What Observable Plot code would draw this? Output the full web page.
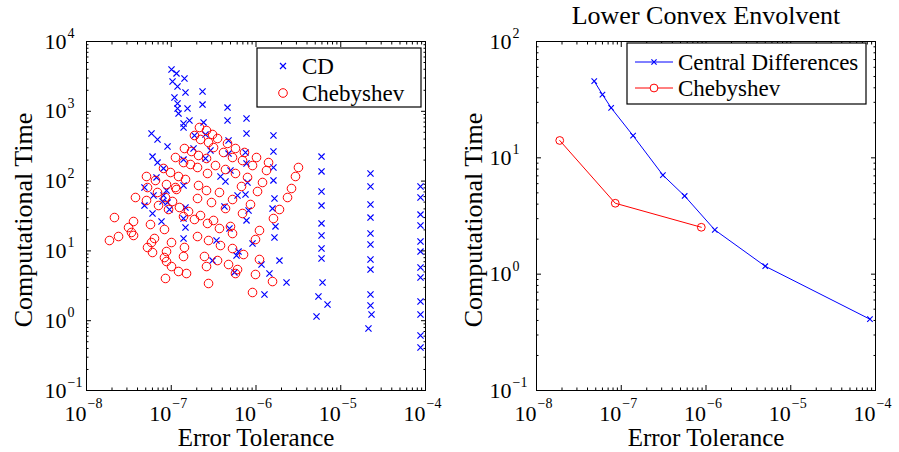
<!DOCTYPE html>
<html><head><meta charset="utf-8">
<script src="https://cdn.jsdelivr.net/npm/d3@7"></script>
<script src="https://cdn.jsdelivr.net/npm/@observablehq/plot@0.6"></script>
<style>
body{margin:0;background:#fff;}
#wrap{display:flex;width:899px;height:452px;overflow:hidden;}
</style></head><body><div id="wrap"></div>
<script>
// ---------- DATA (left panel, values read as log10 of the axis value) ----------
const cdLogErr = [
-6.997,-6.938,-6.844,-6.985,-6.926,-6.832,-6.962,-6.926,-6.808,-6.926,
-6.914,-6.785,-6.855,-6.855,-7.233,-7.162,-7.044,-6.726,-6.737,-7.221,
-7.162,-7.091,-6.855,-7.174,-7.316,-6.855,-6.631,-6.631,-6.336,-6.336,
-6.112,-6.112,-6.619,-6.596,-6.324,-6.537,-6.596,-6.324,-6.112,-6.124,
-6.301,-6.419,-6.360,-6.100,-6.218,-6.124,-5.794,-5.794,-5.794,-5.794,
-5.782,-5.805,-5.770,-5.782,-6.041,-5.723,-5.935,-5.841,-5.640,-5.900,
-5.227,-5.227,-5.227,-5.227,-5.227,-5.227,-5.227,-5.227,-5.215,-5.263,-5.156,-5.286,
-4.649,-4.649,-4.649,-4.649,-4.649,-4.649,-4.649,-4.649,-4.649,-4.649,-4.637,-4.673,
-4.059,-4.059,-4.059,-4.059,-4.059,-4.059,-4.059,-4.059,-4.059,-4.059,-4.059,-4.059,
-7.209,-7.056,-7.091,-7.103,-7.044,-7.316,-7.221,-7.115,-7.021,-6.832,-6.855,-6.832,
-6.855,-6.372,-6.088,-6.112,-6.313,-6.466,-6.206,-6.230,-6.513,-6.254
];
const cdLogTime = [
3.599,3.542,3.470,3.427,3.355,3.269,3.198,3.112,3.040,3.040,
2.968,2.868,2.825,2.768,2.682,2.596,2.496,2.653,2.467,2.352,
2.266,2.181,2.309,2.052,1.908,1.937,3.284,3.097,3.054,2.868,
2.897,2.682,2.840,2.668,2.582,2.438,2.324,2.395,2.252,2.410,
2.152,2.066,1.994,1.980,1.794,1.808,2.653,2.424,2.195,2.009,
1.751,1.607,1.350,1.192,1.106,0.862,0.805,0.676,0.547,0.375,
2.352,2.138,1.851,1.650,1.393,1.221,1.034,0.891,0.547,0.347,0.232,0.060,
2.109,1.923,1.665,1.478,1.249,1.092,0.877,0.733,0.375,0.218,0.089,-0.112,
1.923,1.765,1.521,1.364,1.135,0.991,0.762,0.619,0.275,0.089,-0.212,-0.384,
1.794,1.865,1.794,1.708,1.693,1.650,1.536,1.421,1.593,1.622,1.464,1.335,
1.178,1.636,1.579,1.436,1.321,1.149,0.991,0.934,0.862,0.691
];
const chebLogErr = [
-6.667,-6.584,-6.513,-6.454,-6.726,-6.655,-6.560,-6.501,-6.336,-6.242,
-6.844,-6.761,-6.678,-6.584,-6.383,-6.277,-6.136,-5.994,-6.159,-6.041,
-6.950,-6.855,-6.773,-6.690,-6.478,-6.360,-6.242,-5.852,-7.091,-7.009,
-6.914,-6.832,-6.572,-6.100,-7.292,-7.186,-7.056,-6.950,-7.280,
-5.876,-5.499,-5.534,-5.923,-5.982,-5.581,-5.628,-6.065,-5.723,-5.794,
-5.959,-6.006,-5.959,-6.006,-5.805,-6.041,
-6.678,-6.584,-6.431,-6.171,-6.690,-6.277,-6.525,-6.360,
-6.159,-6.655,-6.501,-6.572,-6.431,-6.301,-6.277,-6.690,-6.560,-6.419,
-6.277,-6.147,-6.608,-6.454,-6.584,-6.324,-6.218,-6.242,-6.560,
-7.422,-7.292,-7.162,-6.938,-7.068,-6.985,-7.150,-7.032,-6.903,-6.796,
-7.670,-7.445,-7.245,-7.080,-6.855,-6.726,-7.504,-7.469,-7.445,-7.622,
-7.729,-7.198,-7.233,-7.280,-7.221,-6.997,-6.844,-7.056,-7.080,-7.056,
-6.855,-6.997,-6.914,-6.820,-7.068
];
const chebLogTime = [
2.768,2.725,2.668,2.610,2.653,2.596,2.553,2.481,2.539,2.467,
2.467,2.424,2.367,2.324,2.410,2.338,2.410,2.338,2.295,2.223,
2.338,2.266,2.238,2.195,2.223,2.166,2.109,2.266,2.181,2.123,
2.066,2.023,2.109,2.052,2.066,2.009,1.951,1.908,1.908,
2.152,2.195,2.066,1.980,1.851,1.894,1.765,1.665,1.593,1.464,
1.292,1.163,0.877,0.662,0.561,0.404,
1.937,1.865,1.837,1.923,1.751,1.736,1.693,1.607,
1.536,1.507,1.436,1.393,1.321,1.350,1.249,1.206,1.149,1.077,
1.034,0.948,0.920,0.862,0.776,0.805,0.733,0.676,0.533,
1.765,1.722,1.837,1.880,1.765,1.708,1.650,1.593,1.622,1.564,
1.478,1.421,1.378,1.307,1.493,1.450,1.335,1.264,1.221,1.206,
1.149,1.178,1.120,1.049,0.977,1.120,1.049,0.991,0.905,0.848,
0.920,0.776,0.705,0.676,0.605
];
// ---------- DATA (right panel: lower convex envelope) ----------
const envCdErr  = [4.8e-8, 6.0e-8, 7.6e-8, 1.38e-7, 3.1e-7, 5.6e-7, 1.27e-6, 5.0e-6, 8.6e-5];
const envCdTime = [45.6, 35.0, 26.9, 15.5, 7.1, 4.7, 2.4, 1.17, 0.41];
const envChebErr  = [1.88e-8, 8.5e-8, 8.8e-7];
const envChebTime = [14.1, 4.07, 2.53];
// ---------- TICKS / LABELS ----------
const xTickExp = [-8, -7, -6, -5, -4];
const leftYTickExp = [-1, 0, 1, 2, 3, 4];
const rightYTickExp = [-1, 0, 1, 2];
const xLabel = "Error Tolerance";
const yLabel = "Computational Time";
const rightTitle = "Lower Convex Envolvent";
const legendLeft = ["CD", "Chebyshev"];
const legendRight = ["Central Differences", "Chebyshev"];

const FONT = "Liberation Serif, Times New Roman, serif";
const BLUE = "#0000ff", RED = "#ff0000";

const cd = cdLogErr.map((e, i) => ({err: 10 ** e, time: 10 ** cdLogTime[i]}));
const cheb = chebLogErr.map((e, i) => ({err: 10 ** e, time: 10 ** chebLogTime[i]}));
const envCd = envCdErr.map((e, i) => ({err: e, time: envCdTime[i]}));
const envCheb = envChebErr.map((e, i) => ({err: e, time: envChebTime[i]}));

const fmtExp = e => (e < 0 ? "\u2212" + (-e) : String(e));
function minor(lo, hi) { const t = []; for (let e = lo; e < hi; e++) for (let k = 2; k <= 9; k++) t.push(k * 10 ** e); return t; }

function boxAxes(xExp, yExp, yLabelDx) {
  const xMaj = xExp.map(e => 10 ** e), yMaj = yExp.map(e => 10 ** e);
  const xMin = minor(xExp[0], xExp[xExp.length - 1]);
  const yMin = minor(yExp[0], yExp[yExp.length - 1]);
  const base = {label: null, tickFormat: () => "", stroke: "black", strokeWidth: 1};
  const txt = {fill: "black", lineAnchor: "middle"};
  return [
    Plot.axisX(xMaj, {...base, anchor: "bottom", tickSize: -5}),
    Plot.axisX(xMaj, {...base, anchor: "top", tickSize: -5}),
    Plot.axisX(xMin, {...base, anchor: "bottom", tickSize: -2.5}),
    Plot.axisX(xMin, {...base, anchor: "top", tickSize: -2.5}),
    Plot.axisY(yMaj, {...base, anchor: "left", tickSize: -5}),
    Plot.axisY(yMaj, {...base, anchor: "right", tickSize: -5}),
    Plot.axisY(yMin, {...base, anchor: "left", tickSize: -2.5}),
    Plot.axisY(yMin, {...base, anchor: "right", tickSize: -2.5}),
    Plot.frame({stroke: "black", strokeWidth: 1}),
    Plot.text(xExp, {...txt, x: e => 10 ** e, frameAnchor: "bottom", text: () => "10", textAnchor: "end", dy: 23, fontSize: 22}),
    Plot.text(xExp, {...txt, x: e => 10 ** e, frameAnchor: "bottom", text: fmtExp, textAnchor: "start", dx: 1, dy: 13, fontSize: 14}),
    Plot.text(yExp, {...txt, y: e => 10 ** e, frameAnchor: "left", text: () => "10", textAnchor: "start", dx: yLabelDx, fontSize: 22}),
    Plot.text(yExp, {...txt, y: e => 10 ** e, frameAnchor: "left", text: fmtExp, textAnchor: "start", dx: yLabelDx + 23, dy: -8, fontSize: 14}),
    Plot.text([xLabel], {...txt, frameAnchor: "bottom", textAnchor: "middle", dy: 47.5, fontSize: 25}),
    Plot.text([yLabel], {...txt, frameAnchor: "left", textAnchor: "middle", rotate: -90, dx: -63, dy: 4, fontSize: 26})
  ];
}

const left = Plot.plot({
  width: 450, height: 452,
  marginLeft: 86, marginRight: 25, marginTop: 41, marginBottom: 62,
  style: {fontFamily: FONT, background: "white", color: "black"},
  x: {type: "log", domain: [1e-8, 1e-4]},
  y: {type: "log", domain: [1e-1, 1e4]},
  marks: [
    Plot.dot(cd, {x: "err", y: "time", symbol: "times", r: 2.9, stroke: BLUE, strokeWidth: 1.2}),
    Plot.dot(cheb, {x: "err", y: "time", symbol: "circle", r: 4.3, stroke: RED, strokeWidth: 1, fill: "none"}),
    ...boxAxes(xTickExp, leftYTickExp, -42)
  ]
});

const right = Plot.plot({
  width: 449, height: 452,
  marginLeft: 86, marginRight: 24, marginTop: 41, marginBottom: 62,
  style: {fontFamily: FONT, background: "white", color: "black"},
  x: {type: "log", domain: [1e-8, 1e-4]},
  y: {type: "log", domain: [1e-1, 1e2]},
  marks: [
    Plot.line(envCd, {x: "err", y: "time", stroke: BLUE, strokeWidth: 1}),
    Plot.dot(envCd, {x: "err", y: "time", symbol: "times", r: 2.6, stroke: BLUE, strokeWidth: 1.1}),
    Plot.line(envCheb, {x: "err", y: "time", stroke: RED, strokeWidth: 1}),
    Plot.dot(envCheb, {x: "err", y: "time", symbol: "circle", r: 3.9, stroke: RED, strokeWidth: 1, fill: "none"}),
    ...boxAxes(xTickExp, rightYTickExp, -47),
    Plot.text([rightTitle], {frameAnchor: "top", textAnchor: "middle", lineAnchor: "middle", dy: -26, fontSize: 26, fill: "black"})
  ]
});

document.getElementById("wrap").append(left, right);

// ---------- legends (layout drawn on top of the plots) ----------
function xPath(cx, cy, h) { return `M${cx-h},${cy-h}L${cx+h},${cy+h}M${cx-h},${cy+h}L${cx+h},${cy-h}`; }
function legend(svg, box, items) {
  const g = d3.select(svg).append("g").attr("font-family", FONT).attr("font-size", 23).attr("text-anchor", "start");
  g.append("rect").attr("x", box.x).attr("y", box.y).attr("width", box.w).attr("height", box.h)
    .attr("fill", "white").attr("stroke", "black").attr("stroke-width", 1.2);
  items.forEach(it => {
    if (it.line) g.append("line").attr("x1", it.lx1).attr("x2", it.lx2).attr("y1", it.y).attr("y2", it.y).attr("stroke", it.color);
    if (it.symbol === "x") g.append("path").attr("d", xPath(it.mx, it.y, it.h)).attr("stroke", it.color).attr("stroke-width", 1.2).attr("fill", "none");
    else g.append("circle").attr("cx", it.mx).attr("cy", it.y).attr("r", it.r).attr("stroke", it.color).attr("fill", it.line ? "white" : "none");
    g.append("text").attr("x", it.tx).attr("y", it.y).attr("dy", "0.35em").attr("text-anchor", "start").attr("fill", "black").text(it.label);
  });
}
legend(left, {x: 257, y: 48, w: 164, h: 59}, [
  {label: legendLeft[0], symbol: "x", color: BLUE, mx: 283, y: 66, h: 3, tx: 302},
  {label: legendLeft[1], symbol: "o", color: RED, mx: 283, y: 93, r: 4.3, tx: 302}
]);
legend(right, {x: 177, y: 43, w: 239, h: 61}, [
  {label: legendRight[0], symbol: "x", color: BLUE, line: true, lx1: 185, lx2: 223, mx: 204, y: 62, h: 2.6, tx: 228},
  {label: legendRight[1], symbol: "o", color: RED, line: true, lx1: 185, lx2: 223, mx: 204, y: 88, r: 3.9, tx: 228}
]);
</script></body></html>
